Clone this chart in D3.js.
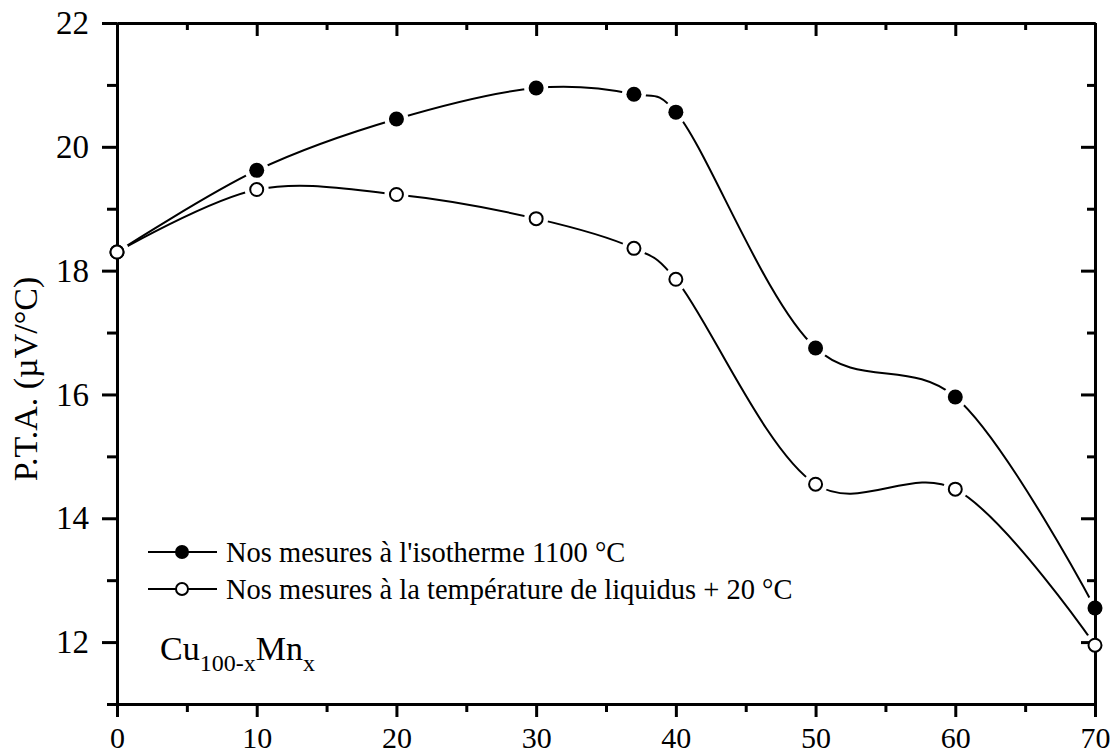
<!DOCTYPE html>
<html>
<head>
<meta charset="utf-8">
<script src="https://cdn.jsdelivr.net/npm/d3@7"></script>
<style>
  html, body { margin: 0; padding: 0; background: #fff; }
  svg { display: block; }
  text { font-family: "Liberation Serif", "Times New Roman", serif; fill: #000; }
</style>
</head>
<body>
<svg id="chart" width="1116" height="755"></svg>
<script>
// ---- data ----
const xValues = [0, 10, 20, 30, 37, 40, 50, 60, 70];
const isothermValues = [18.3, 19.62, 20.45, 20.95, 20.85, 20.56, 16.75, 15.96, 12.55];
const liquidusValues = [18.3, 19.31, 19.23, 18.84, 18.36, 17.86, 14.55, 14.47, 11.95];
const xMajorTicks = [0, 10, 20, 30, 40, 50, 60, 70];
const xMinorTicks = [5, 15, 25, 35, 45, 55, 65];
const yMajorTicks = [12, 14, 16, 18, 20, 22];
const yMinorTicks = [11, 13, 15, 17, 19, 21];
const seriesNames = ["Nos mesures à l'isotherme 1100 °C", "Nos mesures à la température de liquidus + 20 °C"];
const yAxisLabel = "P.T.A. (µV/°C)";

// ---- layout ----
const svg = d3.select("#chart");
const plotLeft = 117, plotRight = 1095, plotTop = 23, plotBottom = 704;
const x = d3.scaleLinear().domain([0, 70]).range([plotLeft, plotRight]);
const y = d3.scaleLinear().domain([11, 22]).range([plotBottom, plotTop]);

const series = [
  { name: seriesNames[0], values: isothermValues, filled: true },
  { name: seriesNames[1], values: liquidusValues, filled: false }
];

const line = d3.line()
  .x((d, i) => x(xValues[i]))
  .y(d => y(d))
  .curve(d3.curveCatmullRom.alpha(0.25));

// curves
svg.append("g").selectAll("path").data(series).join("path")
  .attr("d", s => line(s.values))
  .attr("fill", "none")
  .attr("stroke", "#000")
  .attr("stroke-width", 2);

// white halos around markers (gaps in curves)
series.forEach(s => {
  svg.append("g").selectAll("circle").data(s.values).join("circle")
    .attr("cx", (d, i) => x(xValues[i]))
    .attr("cy", d => y(d))
    .attr("r", 12)
    .attr("fill", "#fff");
});

// ---- axes ----
function styleAxis(g) {
  g.attr("font-family", null);
  g.selectAll("path.domain").attr("stroke", "#000").attr("stroke-width", 3);
  g.selectAll(".tick line").attr("stroke", "#000").attr("stroke-width", 3);
  g.selectAll(".tick text").attr("font-size", 33).attr("fill", "#000");
}

// bottom
svg.append("g").attr("transform", `translate(0,${plotBottom})`)
  .call(d3.axisBottom(x).tickValues(xMajorTicks).tickSize(13).tickSizeOuter(0).tickPadding(10).tickFormat(d3.format("d")))
  .call(styleAxis)
  .call(g => g.selectAll(".tick text").attr("font-size", 30));
svg.append("g").attr("transform", `translate(0,${plotBottom})`)
  .call(d3.axisBottom(x).tickValues(xMinorTicks).tickSize(8).tickSizeOuter(0).tickFormat(""))
  .call(styleAxis);
// top (inward)
svg.append("g").attr("transform", `translate(0,${plotTop})`)
  .call(d3.axisTop(x).tickValues(xMajorTicks).tickSize(-13).tickSizeOuter(0).tickFormat(""))
  .call(styleAxis);
svg.append("g").attr("transform", `translate(0,${plotTop})`)
  .call(d3.axisTop(x).tickValues(xMinorTicks).tickSize(-7).tickSizeOuter(0).tickFormat(""))
  .call(styleAxis);
// left (outward)
svg.append("g").attr("transform", `translate(${plotLeft},0)`)
  .call(d3.axisLeft(y).tickValues(yMajorTicks).tickSize(15).tickSizeOuter(0).tickPadding(13).tickFormat(d3.format("d")))
  .call(styleAxis);
svg.append("g").attr("transform", `translate(${plotLeft},0)`)
  .call(d3.axisLeft(y).tickValues(yMinorTicks).tickSize(10).tickSizeOuter(0).tickFormat(""))
  .call(styleAxis);
// right (inward)
svg.append("g").attr("transform", `translate(${plotRight},0)`)
  .call(d3.axisRight(y).tickValues(yMajorTicks).tickSize(-14).tickSizeOuter(0).tickFormat(""))
  .call(styleAxis);
svg.append("g").attr("transform", `translate(${plotRight},0)`)
  .call(d3.axisRight(y).tickValues(yMinorTicks).tickSize(-8).tickSizeOuter(0).tickFormat(""))
  .call(styleAxis);

// ---- markers ----
series.forEach(s => {
  svg.append("g").selectAll("circle").data(s.values).join("circle")
    .attr("cx", (d, i) => x(xValues[i]))
    .attr("cy", d => y(d))
    .attr("r", s.filled ? 7.5 : 6.5)
    .attr("fill", s.filled ? "#000" : "#fff")
    .attr("stroke", "#000")
    .attr("stroke-width", s.filled ? 0 : 2);
});

// ---- legend ----
const legendRows = [552, 589];
series.forEach((s, i) => {
  const g = svg.append("g").attr("transform", `translate(0,${legendRows[i]})`);
  g.append("line").attr("x1", 148).attr("x2", 217).attr("y1", 0).attr("y2", 0)
    .attr("stroke", "#000").attr("stroke-width", 2);
  g.append("circle").attr("cx", 182).attr("cy", 0)
    .attr("r", s.filled ? 7 : 6)
    .attr("fill", s.filled ? "#000" : "#fff")
    .attr("stroke", "#000").attr("stroke-width", s.filled ? 0 : 2);
  g.append("text").attr("x", 226).attr("y", 0).attr("dy", "0.34em")
    .attr("font-size", 28.5).text(s.name);
});

// ---- alloy label ----
const alloy = svg.append("text").attr("x", 160).attr("y", 660).attr("font-size", 34);
alloy.append("tspan").text("Cu");
alloy.append("tspan").attr("font-size", 24).attr("dy", 11).text("100-x");
alloy.append("tspan").attr("dy", -11).text("Mn");
alloy.append("tspan").attr("font-size", 24).attr("dy", 11).text("x");

// ---- y axis label ----
svg.append("text")
  .attr("transform", "translate(37,379) rotate(-90)")
  .attr("text-anchor", "middle")
  .attr("font-size", 34)
  .text(yAxisLabel);
</script>
</body>
</html>
